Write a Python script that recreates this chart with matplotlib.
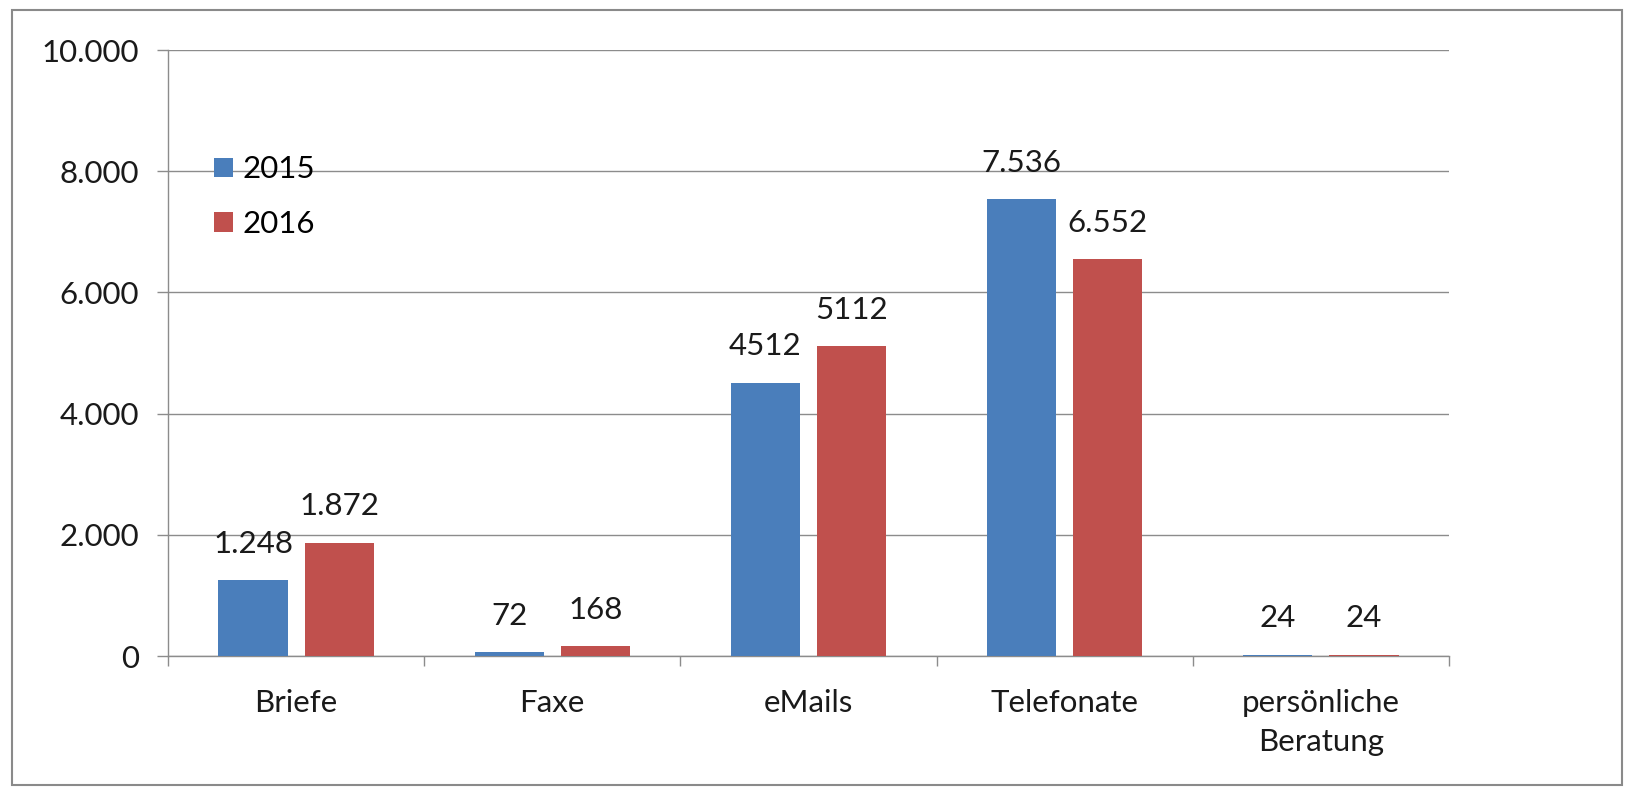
import numpy as np
import matplotlib
matplotlib.use("Agg")
import matplotlib.pyplot as plt
from matplotlib.patches import Patch, Rectangle

plt.rcParams['font.family'] = ['Lato', 'DejaVu Sans']

# data
categories = ['Briefe', 'Faxe', 'eMails', 'Telefonate', 'persönliche\nBeratung']
years = ['2015', '2016']
values_2015 = [1248, 72, 4512, 7536, 24]
values_2016 = [1872, 168, 5112, 6552, 24]
labels_2015 = ['1.248', '72', '4512', '7.536', '24']
labels_2016 = ['1.872', '168', '5112', '6.552', '24']
yticks = [0, 2000, 4000, 6000, 8000, 10000]
ytick_labels = ['0', '2.000', '4.000', '6.000', '8.000', '10.000']

BLUE = '#4a7ebb'
RED = '#c0504d'
GREY = '#8c8c8c'
FS = 22.5

W, H = 1634, 787
fig = plt.figure(figsize=(W / 100, H / 100), dpi=100)
ax = fig.add_axes([168 / W, 1 - 656 / H, (1449 - 168) / W, (656 - 50) / H])

x = np.arange(len(categories))
bw = 0.27
off = 0.168
ax.bar(x - off, values_2015, bw, color=BLUE, zorder=3)
ax.bar(x + off, values_2016, bw, color=RED, zorder=3)

for xi, v, lab in zip(x, values_2015, labels_2015):
    ax.annotate(lab, (xi - off, v), xytext=(0, 26), textcoords='offset points',
                ha='center', va='center', fontsize=FS, color='#1a1a1a')
for xi, v, lab in zip(x, values_2016, labels_2016):
    ax.annotate(lab, (xi + off, v), xytext=(0, 26), textcoords='offset points',
                ha='center', va='center', fontsize=FS, color='#1a1a1a')

ax.set_xlim(-0.5, len(categories) - 0.5)
ax.set_ylim(0, 10000)
ax.set_yticks(yticks)
ax.set_yticklabels(ytick_labels, fontsize=FS, color='#1a1a1a')
ax.set_xticks(x)
ax.set_xticklabels(categories, fontsize=FS, color='#1a1a1a')
for t in ax.get_xticklabels():
    t.set_linespacing(1.45)
ax.set_xticks(np.arange(-0.5, len(categories)), minor=True)

ax.tick_params(axis='y', length=8, width=1, color=GREY, pad=13)
ax.tick_params(axis='x', which='major', length=0, pad=24)
ax.tick_params(axis='x', which='minor', length=7.5, width=1, color=GREY)

ax.yaxis.grid(True, color=GREY, linewidth=1)
ax.set_axisbelow(True)
for s in ['top', 'right']:
    ax.spines[s].set_visible(False)
for s in ['left', 'bottom']:
    ax.spines[s].set_color(GREY)
    ax.spines[s].set_linewidth(1)

handles = [Patch(facecolor=BLUE), Patch(facecolor=RED)]
ax.legend(handles, years, loc='upper left', bbox_to_anchor=(0.036, 0.826),
          frameon=False, fontsize=FS, handlelength=0.6, handleheight=0.6,
          handletextpad=0.3, labelspacing=0.85, borderpad=0, borderaxespad=0)

fig.patches.append(Rectangle((12 / W, 1 - 785 / H), (1622 - 12) / W, (785 - 10) / H,
                             transform=fig.transFigure, fill=False,
                             edgecolor='#8a8a8a', linewidth=1.5))

fig.savefig('out.png', dpi=100, facecolor='white')
